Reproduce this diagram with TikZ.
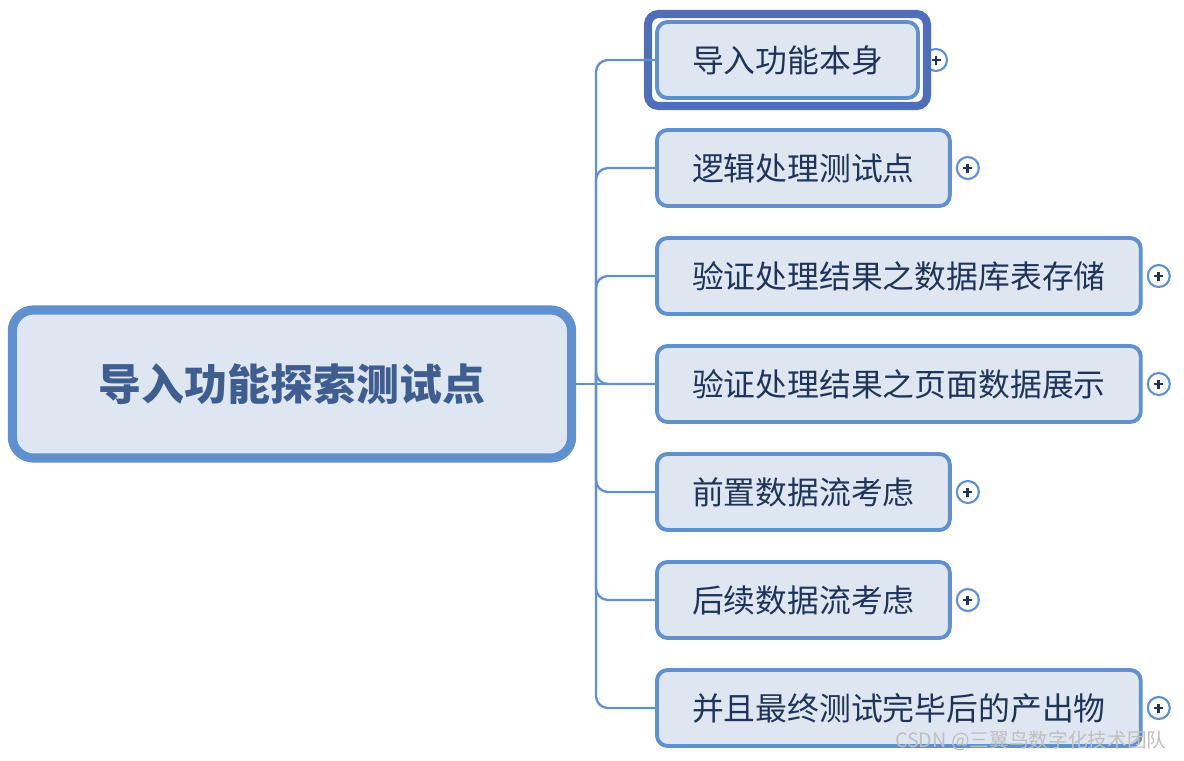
\documentclass[tikz,border=0pt]{standalone}
\usepackage{fontspec}
\setmainfont{Noto Sans CJK SC}
\usetikzlibrary{positioning,fit}
\definecolor{mapBlue}{HTML}{6190CF}
\definecolor{mapFill}{HTML}{DEE6F1}
\definecolor{mapNavy}{HTML}{1F3458}
\definecolor{rootInk}{HTML}{3F5E8F}
\definecolor{selBlue}{HTML}{4F6DB8}

\begin{document}
\begin{tikzpicture}[x=0.01cm,y=-0.01cm,
  rootnode/.style={draw=mapBlue,fill=mapFill,line width=2.6pt,rounded corners=6pt,outer sep=0pt,
    minimum width=5.59cm,minimum height=1.48cm,text=rootInk,font=\bfseries\fontsize{12.2}{14}\selectfont},
  topicnode/.style={draw=mapBlue,fill=mapFill,line width=1.1pt,rounded corners=3pt,outer sep=0pt,
    minimum height=0.76cm,inner xsep=0.35cm,text=mapNavy,font=\fontsize{9.05}{11}\selectfont},
  selframe/.style={draw=selBlue,line width=2.3pt,rounded corners=3pt,inner xsep=0.09cm,inner ysep=0.08cm},
  expander/.style={circle,draw=mapBlue,fill=white,line width=0.6pt,minimum size=0.22cm,inner sep=0pt,
    outer sep=0pt,path picture={
      \draw[mapNavy,line width=0.8pt] (path picture bounding box.center) +(-4.5,0) -- +(4.5,0)
        (path picture bounding box.center) +(0,-4.5) -- +(0,4.5);}},
  branchline/.style={draw=mapBlue,line width=0.65pt,rounded corners=0.12cm}]
  \useasboundingbox (0,0) rectangle (1184,760);
  \node[rootnode] (root) at (292,384) {导入功能探索测试点};
  \foreach \n/\y/\t in {1/60/导入功能本身,2/168/逻辑处理测试点,3/276/验证处理结果之数据库表存储,
      4/384/验证处理结果之页面数据展示,5/492/前置数据流考虑,6/600/后续数据流考虑,
      7/708/并且最终测试完毕后的产出物}{
    \node[topicnode,anchor=west] (c\n) at (657,\y) {\t};
    \node[expander,right=0.07cm of c\n] (p\n) {};
  }
  \node[selframe,fit=(c1)] (sel) {};
  \coordinate (hub) at (596,384);
  \draw[branchline] (root.east) -- (c4.west);
  \foreach \n in {1,...,7}{
    \draw[branchline] (hub) |- (c\n.west);
  }
  \node[anchor=east,text=black!25,font=\fontsize{5.6}{6}\selectfont] (mark) at (1179,741) {CSDN @三翼鸟数字化技术团队};
\end{tikzpicture}
\end{document}
